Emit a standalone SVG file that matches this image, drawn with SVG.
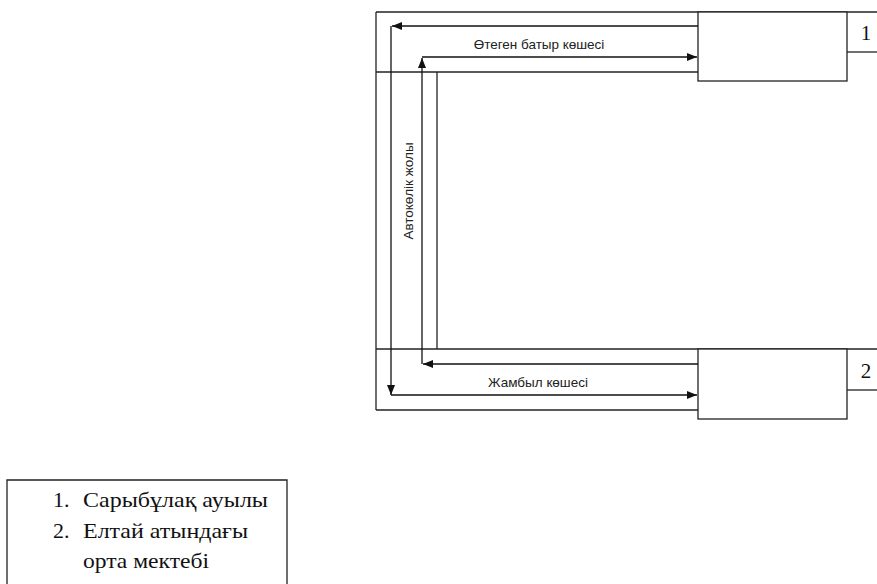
<svg xmlns="http://www.w3.org/2000/svg" width="877" height="584" viewBox="0 0 877 584">
<style>
.ln{stroke:#222;stroke-width:1.3;fill:none}
.bx{stroke:#222;stroke-width:1.3;fill:#fff}
.ar{stroke:#111;stroke-width:1.3;fill:none;marker-end:url(#ah)}
.lab{font-family:"Liberation Sans",Arial,sans-serif;font-size:13.5px;fill:#222}
.ser{font-family:"Liberation Serif","Times New Roman",serif;font-size:21px;fill:#111}
.leg{font-family:"Liberation Serif","Times New Roman",serif;font-size:22px;fill:#111}
</style>
<defs>
<marker id="ah" markerUnits="userSpaceOnUse" markerWidth="11" markerHeight="9" refX="10" refY="4" orient="auto">
<path d="M0,0 L10,4 L0,8 z" fill="#111"/>
</marker>
</defs>
<rect width="877" height="584" fill="#fff"/>
<g id="roads">
<line class="ln" x1="376" y1="12" x2="877" y2="12"/>
<line class="ln" x1="376" y1="12" x2="376" y2="410"/>
<line class="ln" x1="376" y1="410" x2="698" y2="410"/>
<line class="ln" x1="376" y1="72" x2="698" y2="72"/>
<line class="ln" x1="376" y1="349" x2="877" y2="349"/>
<line class="ln" x1="437" y1="72" x2="437" y2="349"/>
</g>
<g id="box1">
<rect class="bx" x="698" y="12" width="149" height="69"/>
</g>
<g id="cell1">
<line class="ln" x1="847" y1="52" x2="877" y2="52"/>
<text class="ser" x="866" y="40" text-anchor="middle">1</text>
</g>
<g id="box2">
<rect class="bx" x="698" y="349" width="149" height="70"/>
</g>
<g id="cell2">
<line class="ln" x1="847" y1="390" x2="877" y2="390"/>
<text class="ser" x="866" y="378" text-anchor="middle">2</text>
</g>
<g id="connectors">
<line class="ar" x1="698" y1="26" x2="392" y2="26"/>
<line class="ar" x1="391" y1="26" x2="391" y2="395"/>
<line class="ar" x1="391" y1="395" x2="697" y2="395"/>
<line class="ar" x1="698" y1="364" x2="423" y2="364"/>
<line class="ar" x1="422" y1="364" x2="422" y2="58"/>
<line class="ar" x1="422" y1="57" x2="697" y2="57"/>
</g>
<g id="labels">
<text class="lab" x="539" y="49" text-anchor="middle">Өтеген батыр көшесі</text>
<text class="lab" x="538" y="387" text-anchor="middle">Жамбыл көшесі</text>
<text class="lab" transform="translate(413,191) rotate(-90)" text-anchor="middle">Автокөлік жолы</text>
</g>
<g id="legend">
<path class="ln" d="M7,590 L7,480 L287,480 L287,590"/>
<text class="leg" x="53" y="507">1.</text>
<text class="leg" x="83" y="507" textLength="185" lengthAdjust="spacingAndGlyphs">Сарыбұлақ ауылы</text>
<text class="leg" x="53" y="538">2.</text>
<text class="leg" x="83" y="538" textLength="165" lengthAdjust="spacingAndGlyphs">Елтай атындағы</text>
<text class="leg" x="83" y="568" textLength="126" lengthAdjust="spacingAndGlyphs">орта мектебі</text>
</g>
</svg>
